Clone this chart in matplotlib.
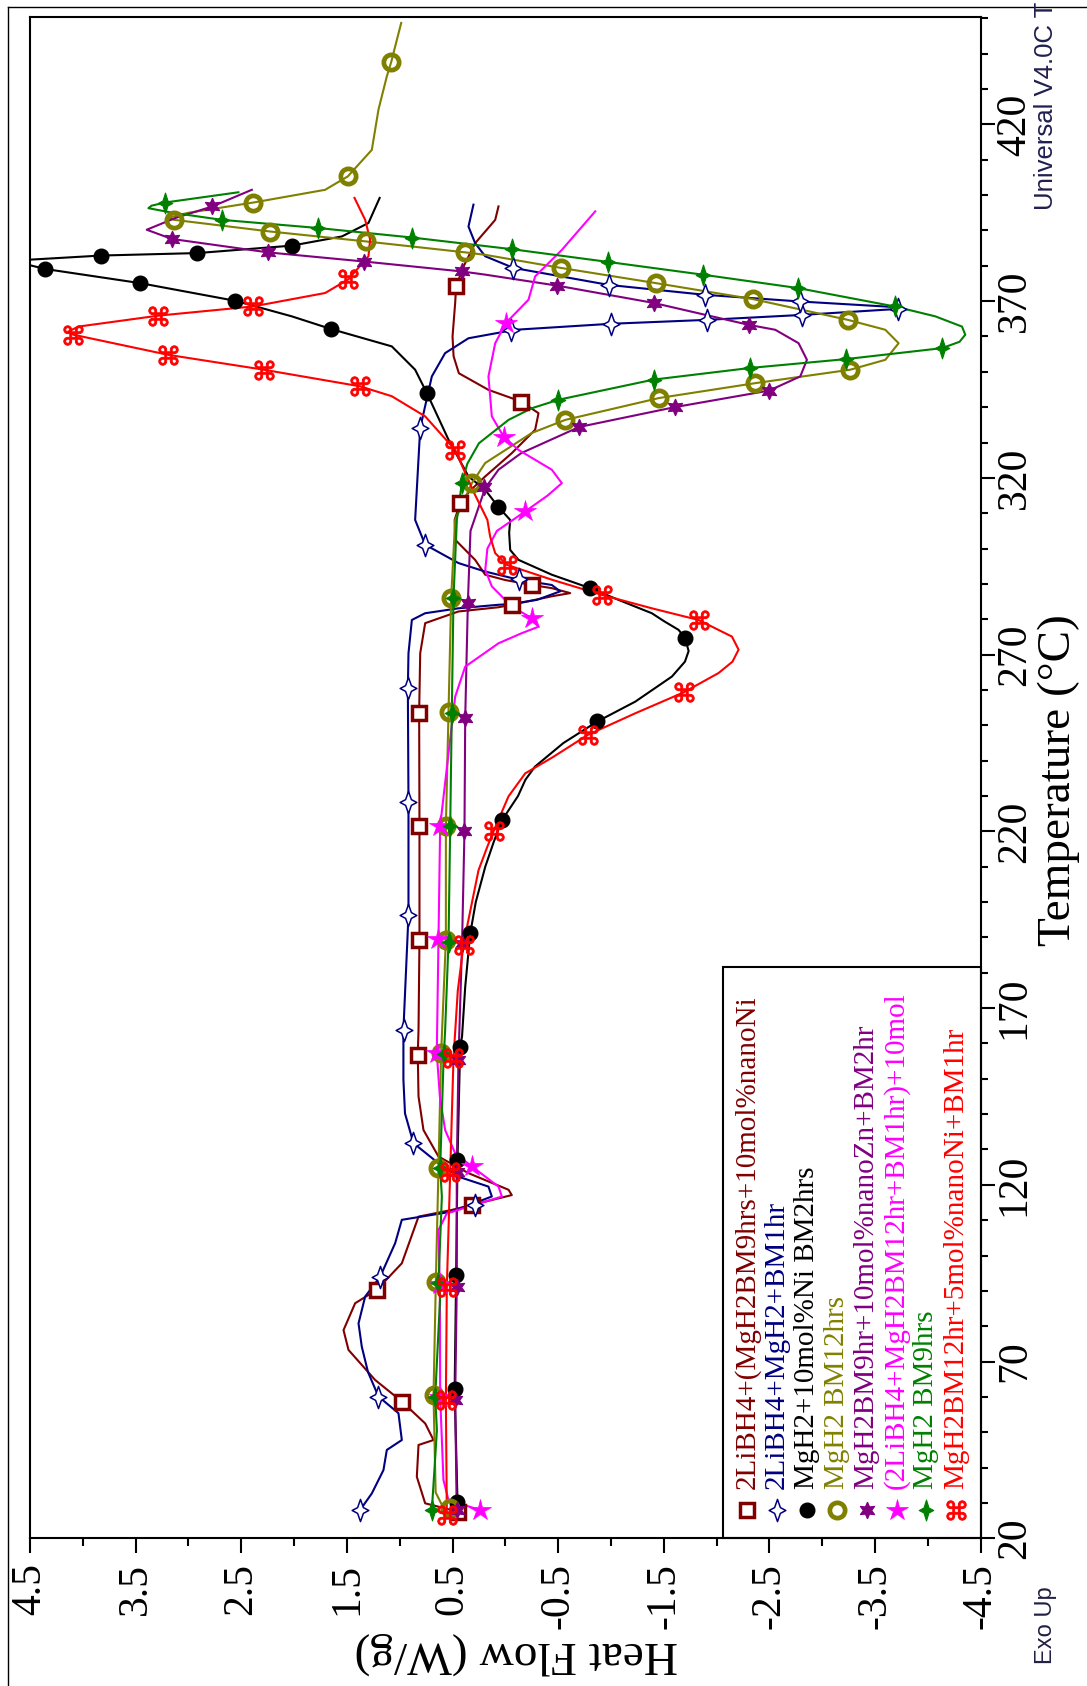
import numpy as np
import matplotlib.pyplot as plt
from matplotlib.path import Path
from matplotlib.patches import Rectangle
from matplotlib.lines import Line2D

W, H = 1087, 1686

# ---- data: temperature (C) and heat flow (W/g) ----
labels = ["2LiBH4+(MgH2BM9hrs+10mol%nanoNi",
          "2LiBH4+MgH2+BM1hr",
          "MgH2+10mol%Ni BM2hrs",
          "MgH2 BM12hrs",
          "MgH2BM9hr+10mol%nanoZn+BM2hr",
          "(2LiBH4+MgH2BM12hr+BM1hr)+10mol",
          "MgH2 BM9hrs",
          "MgH2BM12hr+5mol%nanoNi+BM1hr"]
colors = ['#800000', '#000080', '#000000', '#808000',
          '#800080', '#ff00ff', '#008000', '#ff0000']

brown_t = [27.5, 29.9, 37.4, 46.4, 47.8, 52.5, 58.7, 64.8, 73.3, 78.9, 86.5, 90.3, 97.8,
           111.0, 112.9, 117.1, 118.6, 123.3, 128.0, 135.5, 145.0, 156.8, 163.8, 189.3,
           221.4, 253.6, 270.4, 278.9, 282.2, 283.4, 284.1, 286.5, 287.4, 288.8, 289.7,
           291.1, 292.6, 296.8, 302.5, 308.1, 312.9, 316.5, 320.4, 327.0, 333.6, 338.3,
           341.6, 344.9, 349.6, 354.4, 360.0, 369.5, 374.2, 379.8, 386.4, 391.1, 393.0, 396.8]
brown_hf = [0.444, 0.759, 0.838, 0.822, 0.68, 0.759, 0.98, 1.233, 1.485, 1.532, 1.422, 1.217, 0.98,
            0.822, 0.507, -0.061, -0.03, 0.349, 0.633, 0.775, 0.822, 0.829, 0.822, 0.813,
            0.813, 0.816, 0.806, 0.759, 0.444, 0.065, -0.061, -0.44, -0.614, -0.44, -0.251,
            0.002, 0.191, 0.286, 0.475, 0.48, 0.428, 0.33, 0.191, -0.061, -0.282, -0.314,
            -0.15, 0.16, 0.44, 0.49, 0.50, 0.475, 0.466, 0.396, 0.286, 0.15, 0.096, 0.065]
brown_mt = [27.5, 58.7, 90.3, 114.3, 156.8, 189.3, 221.4, 253.6, 284.1, 289.7, 312.9, 341.6, 374.2]
brown_mhf = [0.444, 0.98, 1.217, 0.317, 0.829, 0.813, 0.813, 0.816, -0.061, -0.251, 0.428, -0.15, 0.466]

navy_t = [28.0, 32.7, 39.3, 45.0, 47.8, 55.4, 60.1, 67.0, 74.2, 80.8, 88.4, 94.0, 103.5, 110.1,
          112.4, 116.7, 119.5, 122.3, 126.1, 131.8, 140.2, 149.7, 163.8, 196.4, 228.4, 260.5,
          270.4, 279.8, 281.7, 283.1, 284.1, 284.3, 285.5, 287.9, 289.7, 291.2, 293.5, 295.9,
          301.1, 308.1, 334.1, 348.7, 355.3, 359.5, 361.4, 361.9, 363.6, 364.7, 366.1, 367.8,
          368.0, 368.3, 369.9, 371.8, 374.6, 379.4, 382.7, 386.4, 391.1, 397.3]
navy_hf = [1.375, 1.264, 1.154, 1.122, 0.98, 1.012, 1.201, 1.30, 1.359, 1.39, 1.327, 1.185, 1.043, 0.98,
           0.507, 0.128, 0.16, 0.444, 0.633, 0.87, 0.95, 0.965, 0.965, 0.917, 0.917, 0.923,
           0.917, 0.885, 0.76, 0.444, 0.065, -0.05, -0.30, -0.519, -0.44, -0.125, 0.191, 0.444,
           0.759, 0.854, 0.806, 0.696, 0.57, 0.349, 0.0, -0.093, -1.002, -1.908, -2.808, -3.717,
           -3.755, -3.70, -2.79, -1.886, -0.977, -0.077, 0.191, 0.286, 0.349, 0.302]
navy_mt = [28.0, 60.1, 94.0, 114.3, 131.8, 163.8, 196.4, 228.4, 260.5, 291.4, 301.1, 334.1,
           361.7, 363.6, 364.7, 366.1, 367.9, 369.9, 371.8, 374.6, 379.4]
navy_mhf = [1.375, 1.201, 1.185, 0.29, 0.87, 0.964, 0.917, 0.917, 0.923, -0.13, 0.759, 0.806,
            -0.05, -1.002, -1.908, -2.808, -3.717, -2.79, -1.886, -0.977, -0.077]

black_t = [28.0, 30.4, 62.0, 94.0, 127.0, 159.0, 162.0, 176.0, 191.0, 200.0, 210.0, 217.0, 223.0,
           230.0, 234.6, 238.3, 245.0, 251.0, 256.7, 263.8, 268.0, 271.0, 274.6, 277.0, 279.5,
           281.7, 285.5, 288.8, 292.6, 296.8, 299.6, 304.4, 308.1, 311.9, 316.6, 320.4, 330.8,
           344.0, 350.6, 357.2, 362.1, 365.7, 370.1, 375.1, 379.1, 380.3, 380.8, 381.7, 382.9,
           383.6, 385.7, 388.3, 392.1, 399.2]
black_hf = [0.45, 0.453, 0.48, 0.466, 0.453, 0.428, 0.41, 0.38, 0.333, 0.28, 0.19, 0.11, 0.035,
            -0.12, -0.19, -0.28, -0.55, -0.866, -1.23, -1.577, -1.70, -1.735, -1.703, -1.64, -1.50,
            -1.387, -1.07, -0.803, -0.44, -0.125, -0.046, -0.036, -0.046, 0.07, 0.19, 0.349, 0.538,
            0.743, 0.854, 1.075, 1.649, 2.022, 2.558, 3.458, 4.357, 4.52, 4.75, 4.52, 3.827,
            2.915, 2.022, 1.548, 1.296, 1.19]
black_mt = [30.4, 62.1, 94.4, 127.0, 159.1, 191.2, 223.3, 251.1, 274.6, 288.8, 311.9, 344.0,
            362.1, 370.1, 375.1, 379.1, 382.9, 383.6, 385.7]
black_mhf = [0.453, 0.481, 0.466, 0.453, 0.428, 0.333, 0.035, -0.866, -1.703, -0.803, 0.07, 0.743,
             1.649, 2.558, 3.458, 4.357, 3.827, 2.915, 2.022]

olive_t = [27.0, 33.0, 60.5, 92.6, 124.7, 157.2, 189.3, 221.4, 253.9, 286.0, 308.1, 318.5, 324.2,
           329.8, 332.7, 336.4, 342.6, 346.8, 350.6, 353.4, 358.1, 361.9, 364.7, 370.6, 375.1,
           379.4, 383.1, 383.8, 386.9, 389.7, 393.0, 393.6, 395.0, 397.9, 401.5, 405.3, 412.8,
           424.2, 433.6, 437.6, 448.7]
olive_hf = [0.56, 0.66, 0.68, 0.658, 0.633, 0.608, 0.563, 0.563, 0.538, 0.513, 0.475, 0.317, 0.191,
            -0.10, -0.25, -0.567, -1.457, -2.366, -3.265, -3.597, -3.723, -3.597, -3.243, -2.34, -1.425,
            -0.526, 0.191, 0.38, 1.321, 2.227, 3.136, 3.19, 3.0, 2.385, 1.706, 1.491, 1.264,
            1.201, 1.122, 1.081, 0.986]
olive_mt = [28.5, 60.5, 92.6, 124.7, 157.2, 189.3, 221.4, 253.9, 286.0, 318.5, 336.4, 342.6,
            346.8, 350.6, 364.7, 370.6, 375.1, 379.4, 383.8, 386.9, 389.7, 393.0, 397.9, 405.3, 437.6]
olive_mhf = [0.52, 0.68, 0.658, 0.633, 0.608, 0.563, 0.563, 0.538, 0.513, 0.317, -0.567, -1.457,
             -2.366, -3.265, -3.243, -2.34, -1.425, -0.526, 0.38, 1.321, 2.227, 3.136, 2.385, 1.491, 1.081]

purple_t = [27.0, 59.1, 91.2, 123.7, 155.3, 188.0, 220.0, 252.0, 284.6, 305.0, 317.1, 322.3,
            327.0, 334.4, 340.0, 344.7, 348.7, 353.4, 358.1, 361.9, 363.3, 369.5, 374.4, 377.5,
            378.4, 381.2, 383.8, 387.6, 390.2, 393.5, 396.8, 401.5]
purple_hf = [0.46, 0.475, 0.46, 0.46, 0.444, 0.41, 0.387, 0.38, 0.355, 0.33, 0.191, 0.065,
             -0.15, -0.699, -1.602, -2.498, -2.792, -2.855, -2.776, -2.555, -2.303, -1.403, -0.488, 0.191,
             0.412, 1.334, 2.249, 3.158, 3.395, 3.126, 2.773, 2.4]
purple_mt = [28.0, 59.1, 91.2, 123.7, 155.3, 188.0, 220.0, 252.0, 284.6, 317.4, 334.4, 340.0,
             344.7, 363.3, 369.5, 374.4, 378.4, 381.2, 383.8, 387.6, 396.8]
purple_mhf = [0.46, 0.475, 0.46, 0.46, 0.444, 0.41, 0.387, 0.38, 0.355, 0.2, -0.699, -1.602,
              -2.498, -2.303, -1.403, -0.488, 0.412, 1.334, 2.249, 3.158, 2.773]

magenta_t = [28.0, 30.8, 36.5, 60.0, 90.0, 107.2, 111.9, 116.7, 119.5, 125.2, 128.9, 135.5, 145.0,
             157.2, 189.5, 221.5, 242.1, 258.1, 266.6, 273.2, 276.0, 277.9, 280.3, 283.6, 289.3,
             294.0, 300.0, 305.0, 310.5, 315.0, 318.5, 322.3, 327.9, 331.7, 337.4, 348.7, 358.1,
             363.8, 370.4, 377.0, 384.5, 395.4]
magenta_hf = [0.238, 0.538, 0.586, 0.617, 0.62, 0.633, 0.554, 0.033, 0.065, 0.317, 0.475, 0.57, 0.62,
              0.649, 0.633, 0.617, 0.538, 0.475, 0.38, 0.065, -0.15, -0.314, -0.251, -0.061, 0.128,
              0.19, 0.17, 0.08, -0.188, -0.40, -0.535, -0.44, -0.125, 0.017, 0.128, 0.16, 0.096,
              -0.005, -0.219, -0.282, -0.535, -0.851]
magenta_mt = [28.0, 60.0, 92.0, 125.2, 157.2, 189.5, 221.5, 280.3, 310.5, 331.7, 363.8]
magenta_mhf = [0.238, 0.617, 0.62, 0.317, 0.649, 0.633, 0.617, -0.251, -0.188, 0.017, -0.005]

green_t = [28.0, 40.0, 50.6, 60.1, 88.4, 92.1, 116.7, 124.7, 154.4, 163.8, 188.8, 221.4, 253.4,
           286.0, 308.1, 318.5, 324.0, 329.8, 336.4, 339.7, 342.1, 347.8, 351.1, 353.6, 356.7,
           358.5, 360.5, 362.8, 365.7, 368.5, 373.7, 377.5, 381.1, 384.7, 388.0, 390.7, 393.0,
           395.0, 396.3, 397.0, 397.9, 400.8]
green_hf = [0.696, 0.67, 0.648, 0.664, 0.617, 0.633, 0.601, 0.617, 0.586, 0.57, 0.538, 0.522, 0.507,
            0.491, 0.459, 0.412, 0.36, 0.25, -0.03, -0.25, -0.503, -1.403, -2.318, -3.224, -4.133,
            -4.30, -4.354, -4.323, -4.07, -3.685, -2.77, -1.867, -0.971, -0.062, 0.885, 1.776, 2.685,
            3.15, 3.379, 3.35, 3.221, 2.527]
green_mt = [28.0, 60.1, 92.1, 124.7, 157.0, 188.8, 221.4, 253.4, 286.0, 318.5, 342.1, 347.8,
            351.1, 353.6, 356.7, 368.5, 373.7, 377.5, 381.1, 384.7, 388.0, 390.7, 393.0, 397.9]
green_mhf = [0.696, 0.664, 0.633, 0.617, 0.58, 0.538, 0.522, 0.507, 0.491, 0.412, -0.503, -1.403,
             -2.318, -3.224, -4.133, -3.685, -2.77, -1.867, -0.971, -0.062, 0.885, 1.776, 2.685, 3.221]

red_t = [26.6, 59.1, 91.2, 123.7, 155.8, 175.0, 187.9, 195.0, 209.0, 215.7, 220.0, 229.9, 236.4,
         241.0, 247.3, 253.4, 259.3, 264.8, 268.0, 271.4, 275.1, 279.8, 283.1, 286.9, 291.2,
         295.4, 298.7, 303.4, 308.1, 316.0, 327.9, 337.4, 343.1, 345.9, 350.6, 354.8, 360.5,
         361.4, 362.8, 365.9, 368.5, 372.3, 376.2, 382.7, 387.4, 393.0, 399.2]
red_hf = [0.554, 0.563, 0.554, 0.522, 0.491, 0.45, 0.396, 0.349, 0.254, 0.17, 0.112, -0.03, -0.188,
          -0.45, -0.781, -1.23, -1.687, -2.019, -2.15, -2.208, -2.145, -1.829, -1.387, -0.914, -0.44,
          -0.014, 0.096, 0.144, 0.17, 0.30, 0.475, 0.759, 1.075, 1.375, 2.287, 3.19, 4.089,
          4.137, 4.042, 3.284, 2.388, 1.706, 1.485, 1.296, 1.28, 1.327, 1.428]
red_mt = [26.6, 59.1, 91.2, 123.7, 155.8, 187.9, 220.0, 247.3, 259.3, 279.8, 286.9, 295.4,
          327.9, 345.9, 350.6, 354.8, 360.5, 365.9, 368.5, 376.2]
red_mhf = [0.554, 0.563, 0.554, 0.522, 0.491, 0.396, 0.112, -0.781, -1.687, -1.829, -0.914, -0.014,
           0.475, 1.375, 2.287, 3.19, 4.089, 3.284, 2.388, 1.485]

hf_major = [4.5, 3.5, 2.5, 1.5, 0.5, -0.5, -1.5, -2.5, -3.5, -4.5]
hf_labels = ['4.5', '3.5', '2.5', '1.5', '0.5', '-0.5', '-1.5', '-2.5', '-3.5', '-4.5']
t_major = [20, 70, 120, 170, 220, 270, 320, 370, 420]

# ---- custom markers ----
def star4(w, a):
    v = [(0, 1), (a, a), (w, 0), (a, -a), (0, -1), (-a, -a), (-w, 0), (-a, a), (0, 1)]
    return Path(v, closed=True)

styles = [
    dict(marker='s', ms=10.5, mfc='white', mec=colors[0], mew=2.5),
    dict(marker=star4(0.75, 0.26), ms=16, mfc='white', mec=colors[1], mew=1.1),
    dict(marker='o', ms=10.5, mfc=colors[2], mec=colors[2], mew=1),
    dict(marker='o', ms=11, mfc='none', mec=colors[3], mew=3.4),
    dict(marker=(6, 1, 0), ms=12, mfc=colors[4], mec=colors[4], mew=0.8),
    dict(marker='*', ms=16, mfc=colors[5], mec=colors[5], mew=0.5),
    dict(marker=star4(0.7, 0.24), ms=15, mfc=colors[6], mec=colors[6], mew=0.8),
    dict(marker='$\u2318$', ms=14, mfc=colors[7], mec=colors[7], mew=0.7),
]

series = [(brown_t, brown_hf, brown_mt, brown_mhf),
          (navy_t, navy_hf, navy_mt, navy_mhf),
          (black_t, black_hf, black_mt, black_mhf),
          (olive_t, olive_hf, olive_mt, olive_mhf),
          (purple_t, purple_hf, purple_mt, purple_mhf),
          (magenta_t, magenta_hf, magenta_mt, magenta_mhf),
          (green_t, green_hf, green_mt, green_mhf),
          (red_t, red_hf, red_mt, red_mhf)]

serif = 'Liberation Serif'
fig = plt.figure(figsize=(W / 100, H / 100), dpi=100)
ax = fig.add_axes([30 / W, (H - 1538.3) / H, 950.7 / W, 1521 / H])

for (t, hf, mt, mhf), c, st in zip(series, colors, styles):
    ax.plot(hf, t, color=c, lw=1.5, zorder=2)
    ax.plot(mhf, mt, ls='none', zorder=3, **st)

ax.set_xlim(4.5, -4.5)
ax.set_ylim(20, 450.3)
ax.set_xticks(hf_major)
ax.set_xticklabels(hf_labels, rotation=90, fontsize=30, family=serif)
ax.set_xticks(np.arange(-4, 4.1, 1.0), minor=True)
ax.yaxis.tick_right()
ax.set_yticks(t_major)
ax.set_yticklabels([str(v) for v in t_major], rotation=90, fontsize=30, family=serif, va='center')
ax.set_yticks(np.arange(20, 451, 10), minor=True)
ax.tick_params(axis='x', which='major', length=11, width=1.5, pad=7, direction='out')
ax.tick_params(axis='x', which='minor', length=6, width=1.5, direction='out')
ax.tick_params(axis='y', which='major', length=10, width=1.5, pad=0.5, direction='out')
ax.tick_params(axis='y', which='minor', length=5, width=1.5, direction='out')
for s in ax.spines.values():
    s.set_linewidth(1.5)

# legend box drawn by hand (rotated text)
lx0 = (723 - 30) / 950.7
ly1 = (1538.3 - 967) / 1521
ax.add_patch(Rectangle((lx0, 0), 1 - lx0, ly1, transform=ax.transAxes, fill=False,
                       lw=1.5, ec='black', zorder=5, clip_on=False))
for i, (lab, c, st) in enumerate(zip(labels, colors, styles)):
    xa = (747 - 30 + i * 29.9) / 950.7
    ax.plot([xa], [(1538.3 - 1510) / 1521], transform=ax.transAxes, ls='none',
            clip_on=False, zorder=6, **st)
    ax.text(xa, (1538.3 - 1489) / 1521, lab, transform=ax.transAxes, rotation=90,
            ha='center', va='bottom', color=c, fontsize=21, family=serif, zorder=6)

fig.text(516 / W, 1 - 1653 / H, 'Heat Flow (W/g)', rotation=180, ha='center', va='center',
         fontsize=34, family=serif)
fig.text(1059 / W, 1 - 780 / H, 'Temperature (\u00b0C)', rotation=90, ha='center', va='center',
         fontsize=34, family=serif)
fig.text(1046 / W, 1 - 1625 / H, 'Exo Up', rotation=90, ha='center', va='center',
         fontsize=17, family='Liberation Sans', color='#202040')
fig.text(1046 / W, 1 - 2 / H, 'Universal V4.0C T', rotation=90, ha='center', va='top',
         fontsize=18.5, family='Liberation Sans', color='#202050')

# outer frame lines
fig.add_artist(Line2D([8 / W, 8 / W], [0, 1 - 7 / H], transform=fig.transFigure, color='k', lw=1))
fig.add_artist(Line2D([8 / W, 1], [1 - 7 / H, 1 - 7 / H], transform=fig.transFigure, color='k', lw=1))

fig.savefig('out.png', dpi=100)
